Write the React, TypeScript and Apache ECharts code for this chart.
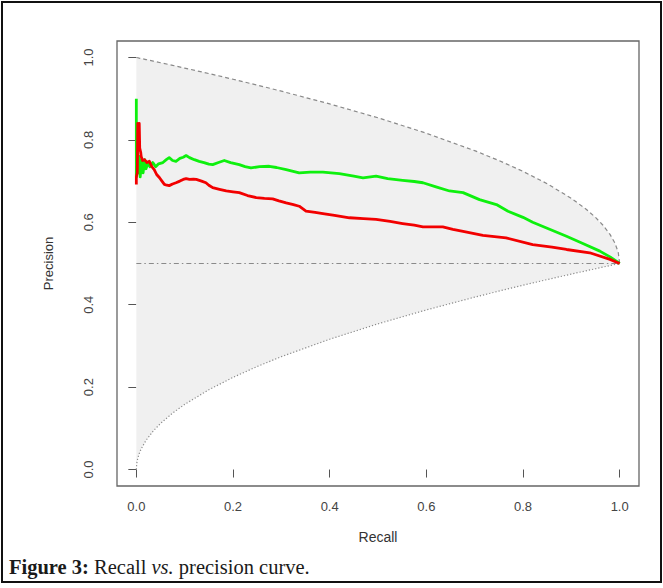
import React, { useEffect, useRef } from "react";
import * as echarts from "echarts";

// Bound curves of the shaded region
const boundRecall = [0, 0.001, 0.003, 0.006, 0.01, 0.02, 0.035, 0.05, 0.075, 0.1, 0.15, 0.2, 0.25, 0.3, 0.4, 0.5, 0.6, 0.7, 0.75, 0.8, 0.85, 0.9, 0.93, 0.95, 0.965, 0.98, 0.99, 0.997, 1];
const upperPrecision = [1, 0.9998, 0.9993, 0.9985, 0.9975, 0.995, 0.9912, 0.9873, 0.9809, 0.9743, 0.961, 0.9472, 0.933, 0.9183, 0.8873, 0.8536, 0.8162, 0.7739, 0.75, 0.7236, 0.6936, 0.6581, 0.6323, 0.6118, 0.5935, 0.5707, 0.55, 0.5274, 0.5];
const lowerPrecision = [0, 0.0158, 0.0274, 0.0387, 0.05, 0.0707, 0.0935, 0.1118, 0.1369, 0.1581, 0.1936, 0.2236, 0.25, 0.2739, 0.3162, 0.3536, 0.3873, 0.4183, 0.433, 0.4472, 0.461, 0.4743, 0.4822, 0.4873, 0.4912, 0.495, 0.4975, 0.4992, 0.5];

// Baseline
const baselineRecall = [0, 1];
const baselinePrecision = [0.5, 0.5];

// Green curve
const greenRecall = [0, 0, 0.002, 0.004, 0.006, 0.008, 0.011, 0.014, 0.017, 0.02, 0.024, 0.028, 0.034, 0.04, 0.046, 0.055, 0.062, 0.068, 0.075, 0.082, 0.09, 0.097, 0.103, 0.11, 0.12, 0.13, 0.14, 0.15, 0.158, 0.17, 0.182, 0.195, 0.213, 0.225, 0.237, 0.255, 0.275, 0.29, 0.31, 0.337, 0.36, 0.386, 0.42, 0.45, 0.469, 0.496, 0.52, 0.551, 0.575, 0.593, 0.62, 0.648, 0.676, 0.71, 0.745, 0.769, 0.8, 0.82, 0.855, 0.89, 0.925, 0.959, 0.98, 1];
const greenPrecision = [0.9, 0.71, 0.78, 0.72, 0.76, 0.71, 0.75, 0.72, 0.752, 0.73, 0.745, 0.735, 0.745, 0.735, 0.742, 0.745, 0.752, 0.757, 0.75, 0.748, 0.755, 0.758, 0.762, 0.757, 0.752, 0.748, 0.745, 0.741, 0.74, 0.745, 0.75, 0.745, 0.74, 0.735, 0.732, 0.735, 0.736, 0.733, 0.728, 0.72, 0.722, 0.722, 0.718, 0.712, 0.708, 0.712, 0.706, 0.702, 0.699, 0.696, 0.686, 0.676, 0.672, 0.655, 0.643, 0.627, 0.612, 0.6, 0.583, 0.566, 0.548, 0.53, 0.516, 0.5];

// Red curve
const redRecall = [0, 0, 0.002, 0.003, 0.005, 0.006, 0.007, 0.009, 0.01, 0.013, 0.017, 0.022, 0.027, 0.032, 0.037, 0.042, 0.048, 0.053, 0.058, 0.063, 0.068, 0.075, 0.082, 0.09, 0.097, 0.103, 0.11, 0.118, 0.124, 0.135, 0.144, 0.15, 0.158, 0.172, 0.186, 0.2, 0.213, 0.23, 0.248, 0.265, 0.282, 0.295, 0.31, 0.325, 0.337, 0.351, 0.37, 0.386, 0.41, 0.441, 0.47, 0.496, 0.525, 0.551, 0.575, 0.593, 0.634, 0.655, 0.676, 0.717, 0.765, 0.82, 0.86, 0.89, 0.938, 0.98, 1];
const redPrecision = [0.692, 0.71, 0.72, 0.84, 0.8, 0.84, 0.78, 0.77, 0.76, 0.75, 0.752, 0.745, 0.748, 0.735, 0.728, 0.716, 0.708, 0.7, 0.692, 0.69, 0.689, 0.693, 0.696, 0.7, 0.704, 0.706, 0.704, 0.705, 0.704, 0.7, 0.696, 0.69, 0.684, 0.68, 0.676, 0.674, 0.672, 0.665, 0.66, 0.658, 0.657, 0.652, 0.647, 0.643, 0.639, 0.627, 0.624, 0.621, 0.617, 0.611, 0.609, 0.607, 0.602, 0.597, 0.593, 0.589, 0.589, 0.583, 0.578, 0.568, 0.562, 0.546, 0.54, 0.534, 0.526, 0.51, 0.5];

const tickValues = [0, 0.2, 0.4, 0.6, 0.8, 1.0];

const pairs = (xs: number[], ys: number[]) => xs.map((x, i) => [x, ys[i]]);

export default function App() {
  const ref = useRef<HTMLDivElement>(null);
  useEffect(() => {
    if (!ref.current) return;
    const chart = echarts.init(ref.current, null, { renderer: "svg" });
    const sans = "'Liberation Sans', Arial, sans-serif";
    const serif = "'Liberation Serif', 'Times New Roman', serif";
    const upperPts = pairs(boundRecall, upperPrecision);
    const lowerPts = pairs(boundRecall, lowerPrecision);
    chart.setOption({
      animation: false,
      backgroundColor: "#ffffff",
      grid: {
        left: 117,
        top: 41,
        width: 522,
        height: 445,
        show: true,
        borderColor: "#666666",
        borderWidth: 1.3,
        backgroundColor: "transparent",
      },
      xAxis: {
        type: "value",
        min: -0.04,
        max: 1.04,
        name: "Recall",
        nameLocation: "middle",
        nameGap: 44,
        nameTextStyle: { fontFamily: sans, fontSize: 14, color: "#333333" },
        axisLine: { show: false },
        axisTick: {
          show: true,
          customValues: tickValues,
          length: 8,
          lineStyle: { color: "#555555", width: 1 },
        },
        axisLabel: {
          customValues: tickValues,
          formatter: (v: number) => v.toFixed(1),
          margin: 14,
          fontFamily: sans,
          fontSize: 13,
          color: "#444444",
        },
        splitLine: { show: false },
      },
      yAxis: {
        type: "value",
        min: -0.04,
        max: 1.04,
        name: "Precision",
        nameLocation: "middle",
        nameGap: 62,
        nameRotate: 90,
        nameTextStyle: { fontFamily: sans, fontSize: 13, color: "#333333" },
        axisLine: { show: false },
        axisTick: {
          show: true,
          customValues: tickValues,
          length: 8,
          lineStyle: { color: "#555555", width: 1 },
        },
        axisLabel: {
          customValues: tickValues,
          formatter: (v: number) => v.toFixed(1),
          rotate: 90,
          margin: 22,
          fontFamily: sans,
          fontSize: 13,
          color: "#444444",
        },
        splitLine: { show: false },
      },
      graphic: [
        {
          type: "rect",
          shape: { x: 2, y: 2, width: 659, height: 580 },
          style: { fill: "none", stroke: "#111111", lineWidth: 2 },
          z: 100,
        },
        {
          type: "text",
          left: 9,
          top: 556,
          style: {
            text: "{b|Figure 3:} Recall {i|vs.} precision curve.",
            fontFamily: serif,
            fontSize: 20.5,
            fill: "#1a1a1a",
            rich: {
              b: { fontWeight: "bold", fontFamily: serif, fontSize: 20.5, fill: "#1a1a1a" },
              i: { fontStyle: "italic", fontFamily: serif, fontSize: 20.5, fill: "#1a1a1a" },
            },
          },
          z: 100,
        },
      ],
      series: [
        {
          type: "custom",
          data: [[0, 0]],
          z: 1,
          silent: true,
          renderItem: (params: any, api: any) => {
            const pts: number[][] = [];
            upperPts.forEach((p) => pts.push(api.coord(p)));
            for (let i = lowerPts.length - 1; i >= 0; i--) pts.push(api.coord(lowerPts[i]));
            return {
              type: "polygon",
              shape: { points: pts },
              style: { fill: "#f0f0f0", stroke: "none" },
            };
          },
        },
        {
          type: "line",
          data: upperPts,
          showSymbol: false,
          silent: true,
          z: 2,
          lineStyle: { color: "#8a8a8a", width: 1.2, type: [4, 3] },
        },
        {
          type: "line",
          data: lowerPts,
          showSymbol: false,
          silent: true,
          z: 2,
          lineStyle: { color: "#8a8a8a", width: 1.2, type: [1.2, 2] },
        },
        {
          type: "line",
          data: pairs(baselineRecall, baselinePrecision),
          showSymbol: false,
          silent: true,
          z: 2,
          lineStyle: { color: "#8a8a8a", width: 1.1, type: [5, 3, 1.5, 3] },
        },
        {
          type: "line",
          data: pairs(greenRecall, greenPrecision),
          showSymbol: false,
          silent: true,
          z: 3,
          lineStyle: { color: "#0ef00e", width: 2.8, join: "round" },
        },
        {
          type: "line",
          data: pairs(redRecall, redPrecision),
          showSymbol: false,
          silent: true,
          z: 4,
          lineStyle: { color: "#f20000", width: 2.8, join: "round" },
        },
      ],
    });
    return () => chart.dispose();
  }, []);
  return (
    <div
      ref={ref}
      style={{ position: "absolute", left: 0, top: 0, width: 663, height: 588, background: "#fff" }}
    />
  );
}
